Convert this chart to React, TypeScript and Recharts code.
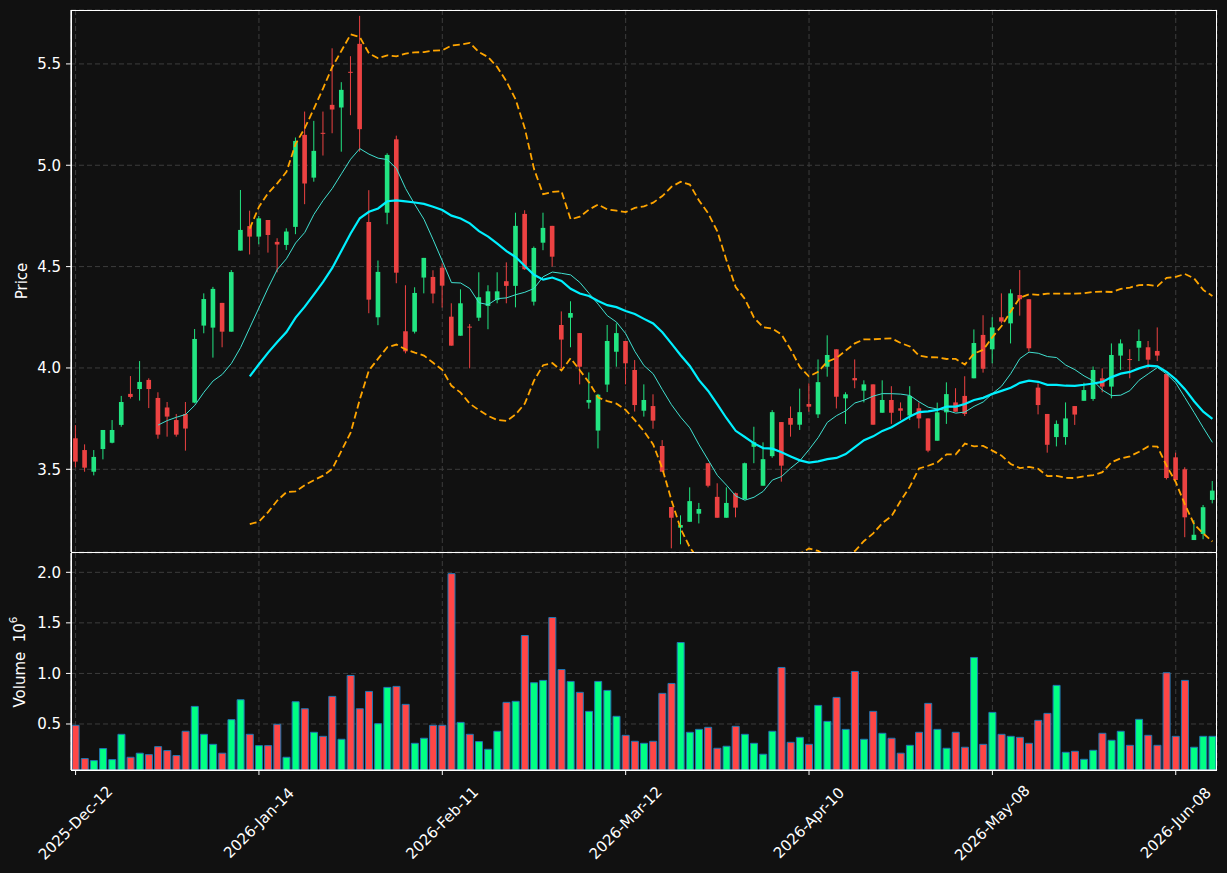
import React from 'react'
import {
  ComposedChart,
  Bar,
  Line,
  Cell,
  XAxis,
  YAxis,
  CartesianGrid,
} from 'recharts'

// daily OHLC (125 sessions)
const opens = [
  3.653, 3.595, 3.488, 3.600, 3.631, 3.719, 3.872, 3.896, 3.941, 3.852,
  3.805, 3.743, 3.773, 3.829, 4.209, 4.199, 4.321, 4.179, 4.579, 4.700,
  4.648, 4.730, 4.622, 4.607, 4.696, 5.150, 4.939, 5.160, 5.298, 5.285,
  5.461, 5.599, 4.720, 4.250, 4.766, 5.128, 4.181, 4.179, 4.446, 4.449,
  4.495, 4.253, 4.159, 4.204, 4.248, 4.306, 4.335, 4.428, 4.405, 4.760,
  4.327, 4.618, 4.701, 4.212, 4.248, 4.172, 3.829, 3.691, 3.918, 4.080,
  4.133, 3.990, 3.789, 3.812, 3.615, 3.314, 3.212, 3.241, 3.281, 3.530,
  3.364, 3.261, 3.382, 3.352, 3.611, 3.419, 3.565, 3.733, 3.753, 3.720,
  3.822, 3.771, 4.006, 4.092, 3.850, 3.950, 3.888, 3.919, 3.779, 3.842,
  3.801, 3.765, 3.801, 3.751, 3.641, 3.781, 3.830, 3.862, 3.949, 4.163,
  4.092, 4.250, 4.220, 4.360, 4.339, 3.903, 3.773, 3.659, 3.659, 3.812,
  3.838, 3.847, 3.949, 3.908, 4.061, 4.044, 4.100, 4.102, 4.084, 3.970,
  3.559, 3.500, 3.151, 3.181, 3.349,
]
const highs = [
  3.718, 3.623, 3.595, 3.694, 3.743, 3.862, 3.960, 4.034, 3.949, 3.880,
  3.832, 3.773, 3.832, 4.192, 4.368, 4.400, 4.321, 4.483, 4.878, 4.776,
  4.750, 4.730, 4.640, 4.689, 5.137, 5.265, 5.219, 5.265, 5.577, 5.410,
  5.538, 5.737, 4.877, 4.530, 5.059, 5.146, 4.408, 4.398, 4.543, 4.482,
  4.516, 4.319, 4.388, 4.217, 4.472, 4.408, 4.472, 4.521, 4.766, 4.778,
  4.599, 4.766, 4.701, 4.279, 4.329, 4.172, 3.978, 3.872, 4.212, 4.220,
  4.133, 4.039, 3.919, 3.870, 3.644, 3.314, 3.273, 3.411, 3.334, 3.530,
  3.431, 3.411, 3.385, 3.533, 3.710, 3.633, 3.792, 3.733, 3.810, 3.898,
  3.924, 4.042, 4.161, 4.092, 3.880, 4.042, 3.939, 3.919, 3.939, 3.910,
  3.830, 3.910, 3.830, 3.751, 3.829, 3.929, 3.900, 3.959, 4.190, 4.260,
  4.250, 4.368, 4.388, 4.483, 4.339, 3.924, 3.773, 3.741, 3.830, 3.812,
  3.927, 4.007, 3.998, 4.121, 4.141, 4.092, 4.190, 4.133, 4.200, 3.970,
  3.582, 3.510, 3.249, 3.324, 3.442,
]
const lows = [
  3.510, 3.488, 3.470, 3.549, 3.628, 3.710, 3.849, 3.839, 3.802, 3.651,
  3.661, 3.661, 3.592, 3.826, 4.171, 4.051, 4.102, 4.179, 4.579, 4.560,
  4.610, 4.569, 4.472, 4.582, 4.660, 4.808, 4.919, 5.048, 5.158, 5.067,
  5.247, 5.067, 4.270, 4.211, 4.709, 4.418, 4.072, 4.170, 4.368, 4.319,
  4.298, 4.110, 4.159, 3.998, 4.232, 4.191, 4.319, 4.319, 4.299, 4.484,
  4.308, 4.581, 4.500, 3.998, 4.102, 3.919, 3.799, 3.603, 3.881, 4.006,
  3.919, 3.785, 3.760, 3.700, 3.488, 3.110, 3.130, 3.241, 3.233, 3.411,
  3.261, 3.261, 3.263, 3.352, 3.530, 3.419, 3.557, 3.439, 3.661, 3.694,
  3.784, 3.753, 3.957, 3.800, 3.724, 3.900, 3.830, 3.720, 3.779, 3.724,
  3.743, 3.743, 3.702, 3.584, 3.641, 3.724, 3.784, 3.763, 3.949, 3.977,
  4.023, 4.220, 4.121, 4.258, 4.081, 3.771, 3.582, 3.613, 3.621, 3.719,
  3.838, 3.838, 3.880, 3.850, 3.990, 3.949, 4.034, 3.998, 4.034, 3.450,
  3.447, 3.165, 3.151, 3.155, 3.332,
]
const closes = [
  3.538, 3.508, 3.561, 3.694, 3.694, 3.832, 3.857, 3.931, 3.896, 3.671,
  3.760, 3.671, 3.701, 4.143, 4.340, 4.390, 4.179, 4.473, 4.681, 4.648,
  4.738, 4.656, 4.609, 4.673, 5.120, 4.910, 5.071, 5.156, 5.275, 5.372,
  5.457, 5.178, 4.337, 4.474, 5.051, 4.470, 4.082, 4.370, 4.543, 4.367,
  4.406, 4.110, 4.319, 4.201, 4.349, 4.378, 4.378, 4.405, 4.701, 4.487,
  4.592, 4.691, 4.549, 4.140, 4.271, 4.006, 3.842, 3.868, 4.133, 4.172,
  4.023, 3.817, 3.842, 3.740, 3.488, 3.261, 3.225, 3.343, 3.304, 3.419,
  3.261, 3.334, 3.311, 3.530, 3.634, 3.550, 3.782, 3.518, 3.720, 3.782,
  3.809, 3.930, 4.064, 3.858, 3.870, 3.939, 3.919, 3.720, 3.842, 3.779,
  3.789, 3.862, 3.751, 3.592, 3.781, 3.871, 3.784, 3.773, 4.123, 3.996,
  4.200, 4.229, 4.368, 4.339, 4.097, 3.817, 3.621, 3.724, 3.751, 3.770,
  3.891, 3.990, 3.908, 4.064, 4.121, 4.041, 4.133, 4.041, 4.061, 3.457,
  3.447, 3.263, 3.177, 3.313, 3.395,
]
// volume in millions
const volumes = [
  0.487, 0.158, 0.138, 0.257, 0.148, 0.398, 0.171, 0.211, 0.197, 0.276,
  0.237, 0.188, 0.428, 0.674, 0.398, 0.299, 0.211, 0.543, 0.740, 0.398,
  0.286, 0.286, 0.497, 0.171, 0.720, 0.651, 0.418, 0.378, 0.773, 0.349,
  0.980, 0.651, 0.822, 0.503, 0.862, 0.872, 0.694, 0.309, 0.359, 0.487,
  0.487, 1.987, 0.516, 0.398, 0.326, 0.250, 0.428, 0.714, 0.724, 1.375,
  0.908, 0.931, 1.553, 1.039, 0.921, 0.813, 0.625, 0.921, 0.832, 0.576,
  0.388, 0.329, 0.309, 0.329, 0.803, 0.901, 1.306, 0.418, 0.447, 0.467,
  0.260, 0.280, 0.477, 0.398, 0.309, 0.201, 0.428, 1.059, 0.319, 0.368,
  0.299, 0.684, 0.526, 0.763, 0.447, 1.020, 0.349, 0.625, 0.408, 0.359,
  0.211, 0.289, 0.418, 0.704, 0.447, 0.260, 0.418, 0.270, 1.158, 0.299,
  0.615, 0.398, 0.378, 0.368, 0.309, 0.536, 0.605, 0.882, 0.220, 0.230,
  0.151, 0.240, 0.408, 0.339, 0.428, 0.289, 0.546, 0.388, 0.289, 1.007,
  0.378, 0.931, 0.270, 0.378, 0.378,
]
const tickLabels = [
  '2025-Dec-12', '2026-Jan-14', '2026-Feb-11', '2026-Mar-12',
  '2026-Apr-10', '2026-May-08', '2026-Jun-08',
]
const priceTicks = [3.5, 4.0, 4.5, 5.0, 5.5]
const volumeTicks = [0.5, 1.0, 1.5, 2.0]

const UP = '#22e582'
const DOWN = '#ec4242'
const VOL_UP = '#00ff84'
const VOL_DOWN = '#ff4646'
const BG = '#111111'
const GRID = '#3d3d3d'
const FG = '#ffffff'
const FS = 15

// rolling mean / population std of closes (the overlays on the chart)
const rollMean = (n: number) =>
  closes.map((_, i) => {
    if (i < n - 1) return null
    const w = closes.slice(i - n + 1, i + 1)
    return w.reduce((a, b) => a + b, 0) / n
  })
const rollStd = (n: number) =>
  closes.map((_, i) => {
    if (i < n - 1) return null
    const w = closes.slice(i - n + 1, i + 1)
    const m = w.reduce((a, b) => a + b, 0) / n
    return Math.sqrt(w.reduce((a, b) => a + (b - m) * (b - m), 0) / n)
  })

const ma10 = rollMean(10)
const ma20 = rollMean(20)
const sd20 = rollStd(20)

const data = closes.map((c, i) => ({
  i,
  open: opens[i],
  high: highs[i],
  low: lows[i],
  close: c,
  volume: volumes[i],
  ma10: ma10[i],
  ma20: ma20[i],
  bbUp: ma20[i] == null ? null : (ma20[i] as number) + 2 * (sd20[i] as number),
  bbLo: ma20[i] == null ? null : (ma20[i] as number) - 2 * (sd20[i] as number),
}))

const Candle = (props: any) => {
  const { x, y, width, height, payload } = props
  if (!payload) return null
  const { open, close, high, low } = payload
  const color = close >= open ? UP : DOWN
  const range = high - low
  const py = (v: number) => (range > 0 ? y + ((high - v) / range) * height : y)
  const cx = x + width / 2
  const bw = width * 0.66
  const top = py(Math.max(open, close))
  const bot = py(Math.min(open, close))
  return (
    <g>
      <line x1={cx} x2={cx} y1={y} y2={y + height} stroke={color} strokeWidth={1} />
      <rect x={cx - bw / 2} y={top} width={bw} height={Math.max(bot - top, 1)} fill={color} />
    </g>
  )
}

const DateTick = (props: any) => {
  const { x, y, payload } = props
  const label = tickLabels[Math.round(payload.value / 20)]
  if (!label) return null
  return (
    <g transform={`translate(${x},${y + 48})`}>
      <text
        transform="rotate(-45)"
        textAnchor="middle"
        dominantBaseline="central"
        fill={FG}
        fontSize={FS}
      >
        {label}
      </text>
    </g>
  )
}

const EmptyTick = () => <g />

const axisTick = { fill: FG, fontSize: FS }
const W = 1227

// white frame around each panel
const frame = (top: number, height: number) => (
  <div
    style={{
      position: 'absolute',
      left: 71,
      top,
      width: 1146,
      height,
      boxSizing: 'border-box',
      border: '1.2px solid #fff',
      pointerEvents: 'none',
    }}
  />
)

export default function App() {
  return (
    <div
      style={{
        position: 'absolute',
        left: 0,
        top: 0,
        width: W,
        height: 873,
        background: BG,
        fontFamily: '"DejaVu Sans", sans-serif',
      }}
    >
      <div style={{ position: 'absolute', left: 0, top: 0 }}>
        <ComposedChart
          width={W}
          height={552}
          data={data}
          margin={{ top: 10, right: 10, left: 0, bottom: 0 }}
        >
          <CartesianGrid stroke={GRID} strokeDasharray="5 3" />
          <XAxis
            dataKey="i"
            type="category"
            interval={19}
            height={0}
            tick={<EmptyTick />}
            tickLine={false}
            axisLine={false}
          />
          <YAxis
            domain={[3.092, 5.766]}
            allowDataOverflow
            ticks={priceTicks}
            tickFormatter={(v: number) => v.toFixed(1)}
            width={71}
            tick={axisTick}
            tickSize={5}
            tickMargin={5}
            tickLine={{ stroke: FG }}
            axisLine={{ stroke: FG, strokeWidth: 1.2 }}
            label={() => (
              <text
                x={22}
                y={281}
                transform="rotate(-90, 22, 281)"
                textAnchor="middle"
                dominantBaseline="central"
                fill={FG}
                fontSize={FS}
              >
                Price
              </text>
            )}
          />
          <Bar dataKey={(d: any) => [d.low, d.high]} shape={<Candle />} isAnimationActive={false} />
          <Line dataKey="ma10" stroke="#40e0d0" strokeWidth={1} dot={false} isAnimationActive={false} />
          <Line dataKey="ma20" stroke="#00f0ff" strokeWidth={2.2} dot={false} isAnimationActive={false} />
          <Line
            dataKey="bbUp"
            stroke="#ffa500"
            strokeWidth={1.8}
            strokeDasharray="7 3.5"
            dot={false}
            isAnimationActive={false}
          />
          <Line
            dataKey="bbLo"
            stroke="#ffa500"
            strokeWidth={1.8}
            strokeDasharray="7 3.5"
            dot={false}
            isAnimationActive={false}
          />
        </ComposedChart>
      </div>

      <div style={{ position: 'absolute', left: 0, top: 552 }}>
        <ComposedChart
          width={W}
          height={321}
          data={data}
          margin={{ top: 1, right: 10, left: 0, bottom: 0 }}
          barCategoryGap="12%"
        >
          <CartesianGrid stroke={GRID} strokeDasharray="5 3" />
          <XAxis
            dataKey="i"
            type="category"
            interval={19}
            height={103}
            tick={<DateTick />}
            tickSize={5}
            tickMargin={0}
            tickLine={{ stroke: FG }}
            axisLine={{ stroke: FG, strokeWidth: 1.2 }}
          />
          <YAxis
            domain={[0.045, 2.191]}
            allowDataOverflow
            ticks={volumeTicks}
            tickFormatter={(v: number) => v.toFixed(1)}
            width={71}
            tick={axisTick}
            tickSize={5}
            tickMargin={5}
            tickLine={{ stroke: FG }}
            axisLine={{ stroke: FG, strokeWidth: 1.2 }}
            label={() => (
              <text
                x={20}
                y={110}
                transform="rotate(-90, 20, 110)"
                textAnchor="middle"
                dominantBaseline="central"
                fill={FG}
                fontSize={FS}
              >
                Volume{'\u00a0\u00a0'}10<tspan fontSize={10.5} dy={-7}>6</tspan>
              </text>
            )}
          />
          <Bar dataKey="volume" stroke="#1f77b4" strokeWidth={1} isAnimationActive={false}>
            {data.map((d) => (
              <Cell key={d.i} fill={d.close >= d.open ? VOL_UP : VOL_DOWN} />
            ))}
          </Bar>
        </ComposedChart>
      </div>
      {frame(10, 543)}
      {frame(552, 219)}
    </div>
  )
}
